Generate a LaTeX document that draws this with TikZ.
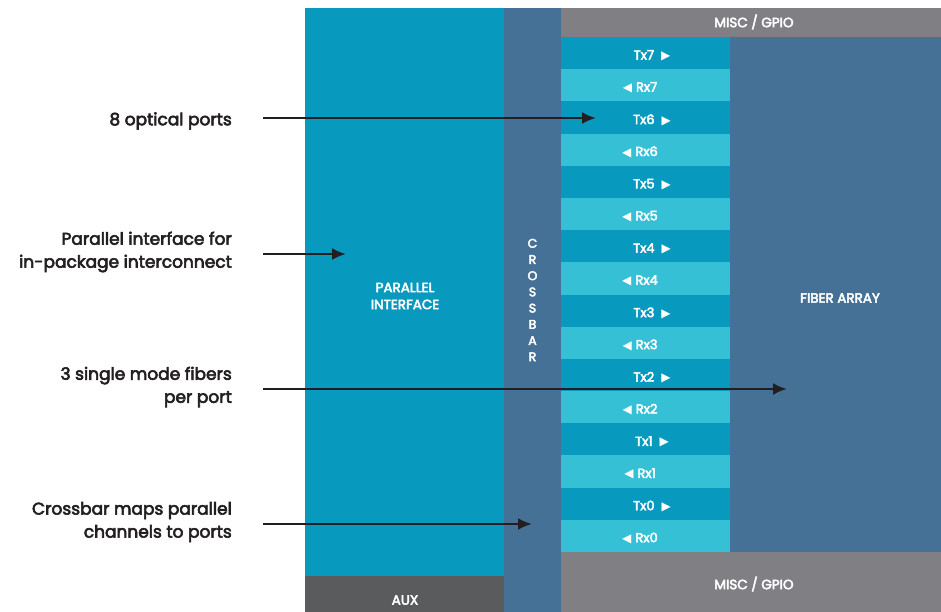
\documentclass[tikz,border=0pt]{standalone}
\usepackage{fontspec}
\setmainfont{Poppins}
\newfontfamily\medfont{Poppins}[FakeBold=3.5]
\newfontfamily\symfont{DejaVu Sans}
\usetikzlibrary{arrows.meta}
\definecolor{pifblue}{HTML}{0899BF}
\definecolor{portlight}{HTML}{36C0D6}
\definecolor{xbarblue}{HTML}{467196}
\definecolor{miscgray}{HTML}{808084}
\definecolor{auxgray}{HTML}{5A5B5D}
\definecolor{inkdark}{HTML}{231F20}
\tikzset{
  blocktext/.style={text=white, font=\medfont\fontsize{13.5}{17}\selectfont, align=center, inner sep=0pt},
  porttext/.style={text=white, font=\medfont\fontsize{13}{14}\selectfont, inner sep=0pt},
  calltext/.style={text=inkdark, font=\medfont\fontsize{17}{23}\selectfont, align=right, anchor=east, inner sep=0pt},
  callarrow/.style={draw=inkdark, line width=2.3pt, -{Latex[length=14pt,width=12pt]}},
}
\newcommand{\txarrow}{\hspace{7pt}{\symfont\fontsize{12}{12}\selectfont ▶}}
\newcommand{\rxarrow}{{\symfont\fontsize{12}{12}\selectfont ◀}\hspace{4pt}}
\begin{document}
\begin{tikzpicture}[x=1pt,y=-1pt]
\useasboundingbox (0,0) rectangle (941,612);
% main blocks
\fill[pifblue] (305,8) rectangle (504,576);
\fill[auxgray] (305,576) rectangle (504,612);
\fill[xbarblue] (504,8) rectangle (561,612);
\fill[miscgray] (561,8) rectangle (941,37);
\fill[xbarblue] (730,37) rectangle (941,552);
\fill[miscgray] (561,552) rectangle (941,612);
% optical port rows
\foreach \p [count=\i from 0] in {7,6,5,4,3,2,1,0}{
  \pgfmathsetmacro{\ytx}{37+2*\i*32.1875}
  \pgfmathsetmacro{\yrx}{\ytx+32.1875}
  \pgfmathsetmacro{\yend}{\yrx+32.1875}
  \fill[pifblue] (561,\ytx) rectangle (730,\yrx);
  \fill[portlight] (561,\yrx) rectangle (730,\yend);
  \node[porttext] (tx\p) at (652,\ytx+18.6) {Tx\p\txarrow};
  \node[porttext] (rx\p) at (640,\yrx+18.4) {\rxarrow Rx\p};
}
% block labels
\node[blocktext] (pif) at (405,296) {PARALLEL\\INTERFACE};
\node[blocktext] (aux) at (405,600) {AUX};
\node[blocktext] (misctop) at (754,22) {MISC / GPIO};
\node[blocktext] (miscbot) at (754,584) {MISC / GPIO};
\node[blocktext] (fiber) at (840,298) {FIBER ARRAY};
\node[blocktext, font=\medfont\fontsize{12.5}{16.2}\selectfont] (xbar) at (532.5,300) {C\\R\\O\\S\\S\\B\\A\\R};
% callouts
\node[calltext] (c1) at (232,121) {8 optical ports};
\node[calltext] (c2) at (232,252) {Parallel interface for\\in-package interconnect};
\node[calltext] (c3) at (232,387) {3 single mode fibers\\per port};
\node[calltext] (c4) at (232,522) {Crossbar maps parallel\\channels to ports};
\coordinate (e1) at (596,118);
\coordinate (e2) at (346,254);
\coordinate (e3) at (787,389);
\coordinate (e4) at (532,524);
\draw[callarrow] (c1.east) ++(31,-3) -- (e1);
\draw[callarrow] (c2.east) ++(31,2) -- (e2);
\draw[callarrow] (c3.east) ++(31,2) -- (e3);
\draw[callarrow] (c4.east) ++(31,2) -- (e4);
\end{tikzpicture}
\end{document}
